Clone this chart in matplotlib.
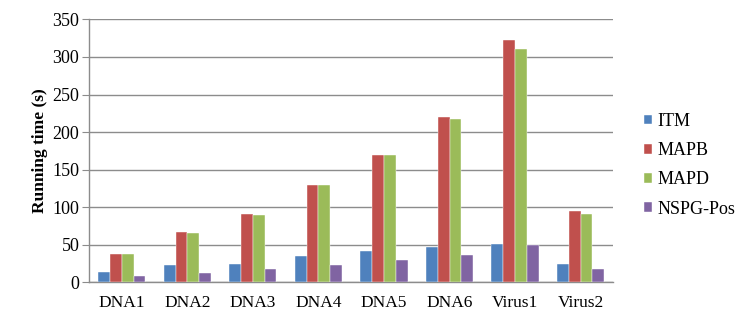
import matplotlib
matplotlib.use("Agg")
import matplotlib.pyplot as plt
import numpy as np

categories = ["DNA1", "DNA2", "DNA3", "DNA4", "DNA5", "DNA6", "Virus1", "Virus2"]
series_names = ["ITM", "MAPB", "MAPD", "NSPG-Pos"]
itm = [14, 23, 24, 35, 41, 47, 51, 24]
mapb = [37, 67, 91, 130, 169, 220, 322, 95]
mapd = [37, 66, 90, 129, 169, 217, 310, 91]
nspg = [8.5, 12.5, 17, 23, 30, 36, 50, 17]
yticks = [0, 50, 100, 150, 200, 250, 300, 350]

colors = ["#4F81BD", "#C0504D", "#9BBB59", "#8064A2"]

plt.rcParams['font.family'] = ['Liberation Serif', 'DejaVu Serif']

fig = plt.figure(figsize=(7.48, 3.24), dpi=100)
ax = fig.add_axes([0.119, 0.129, 0.701, 0.811])

x = np.arange(len(categories))
w = 0.18
data = [itm, mapb, mapd, nspg]
handles = []
for i, (vals, c, name) in enumerate(zip(data, colors, series_names)):
    b = ax.bar(x + (i - 1.5) * w, vals, width=w, color=c, label=name, zorder=3,
               edgecolor='white', linewidth=0.3)
    handles.append(b)

ax.set_xlim(-0.5, len(categories) - 0.5)
ax.set_ylim(0, 350)
ax.set_yticks(yticks)
ax.set_xticks(x)
ax.set_xticklabels(categories)
ax.grid(axis='y', color='#8c8c8c', linewidth=1.0, zorder=0)
for s in ['top', 'right']:
    ax.spines[s].set_visible(False)
for s in ['left', 'bottom']:
    ax.spines[s].set_color('#8c8c8c')
    ax.spines[s].set_linewidth(1.0)
ax.tick_params(axis='y', length=5, color='#8c8c8c', labelsize=13, pad=2)
ax.tick_params(axis='x', length=0, labelsize=12.5, pad=9)
ax.set_ylabel("Running time (s)", fontsize=12.5, fontweight='bold', labelpad=3)

leg = fig.legend(handles=handles, labels=series_names, loc='center left',
                 bbox_to_anchor=(0.851, 0.49), frameon=False, fontsize=13,
                 handlelength=0.45, handleheight=0.45, handletextpad=0.3,
                 labelspacing=0.68, borderaxespad=0)

fig.savefig("out.png", dpi=100)
